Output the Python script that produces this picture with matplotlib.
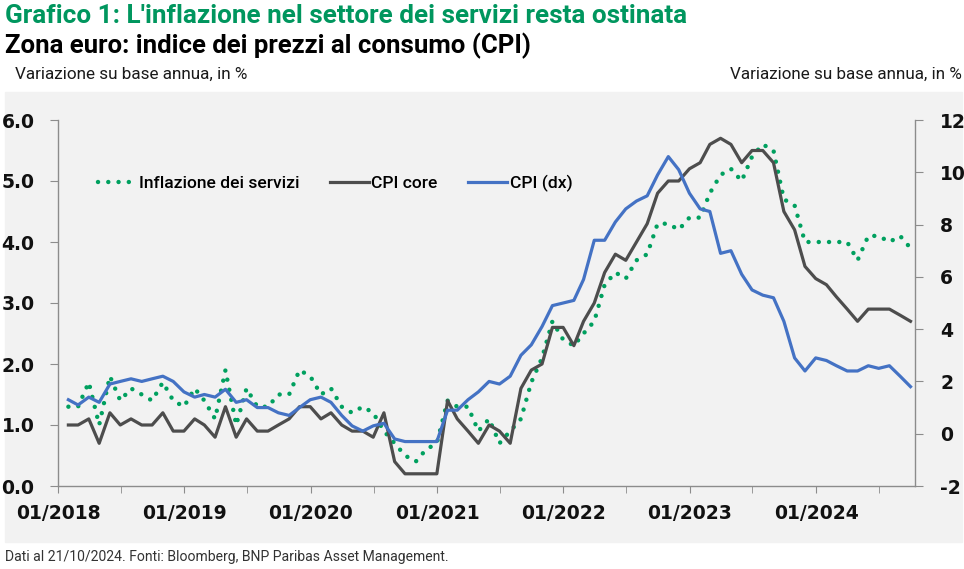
import matplotlib
matplotlib.use('Agg')
import matplotlib.pyplot as plt
import matplotlib.dates as mdates
from matplotlib import font_manager
from matplotlib.patches import Rectangle
from matplotlib.ticker import FormatStrFormatter
import numpy as np
import pandas as pd

# monthly data, Jan 2018 - Sep 2024 (points sit at month end)
months = pd.date_range('2018-01-01', periods=81, freq='MS') + pd.offsets.MonthEnd(0)

servizi = [1.3, 1.3, 1.7, 1.0, 1.8, 1.4, 1.6, 1.5, 1.4, 1.7, 1.4, 1.3,
           1.6, 1.4, 1.1, 1.9, 1.0, 1.6, 1.3, 1.3, 1.5, 1.5, 1.9, 1.8,
           1.5, 1.6, 1.3, 1.2, 1.3, 1.2, 0.9, 0.7, 0.5, 0.4, 0.6, 0.7,
           1.4, 1.3, 1.3, 0.9, 1.1, 0.7, 0.9, 1.1, 1.7, 2.1, 2.7, 2.4,
           2.3, 2.5, 2.7, 3.3, 3.5, 3.4, 3.7, 3.8, 4.3, 4.3, 4.2, 4.4,
           4.4, 4.8, 5.1, 5.2, 5.0, 5.4, 5.6, 5.5, 4.7, 4.6, 4.0, 4.0,
           4.0, 4.0, 4.0, 3.7, 4.1, 4.1, 4.0, 4.1, 3.9]

core = [1.0, 1.0, 1.1, 0.7, 1.2, 1.0, 1.1, 1.0, 1.0, 1.2, 0.9, 0.9,
        1.1, 1.0, 0.8, 1.3, 0.8, 1.1, 0.9, 0.9, 1.0, 1.1, 1.3, 1.3,
        1.1, 1.2, 1.0, 0.9, 0.9, 0.8, 1.2, 0.4, 0.2, 0.2, 0.2, 0.2,
        1.4, 1.1, 0.9, 0.7, 1.0, 0.9, 0.7, 1.6, 1.9, 2.0, 2.6, 2.6,
        2.3, 2.7, 3.0, 3.5, 3.8, 3.7, 4.0, 4.3, 4.8, 5.0, 5.0, 5.2,
        5.3, 5.6, 5.7, 5.6, 5.3, 5.5, 5.5, 5.3, 4.5, 4.2, 3.6, 3.4,
        3.3, 3.1, 2.9, 2.7, 2.9, 2.9, 2.9, 2.8, 2.7]

cpi = [1.3, 1.1, 1.4, 1.2, 1.9, 2.0, 2.1, 2.0, 2.1, 2.2, 2.0, 1.6,
       1.4, 1.5, 1.4, 1.7, 1.2, 1.3, 1.0, 1.0, 0.8, 0.7, 1.0, 1.3,
       1.4, 1.2, 0.7, 0.3, 0.1, 0.3, 0.4, -0.2, -0.3, -0.3, -0.3, -0.3,
       0.9, 0.9, 1.3, 1.6, 2.0, 1.9, 2.2, 3.0, 3.4, 4.1, 4.9, 5.0,
       5.1, 5.9, 7.4, 7.4, 8.1, 8.6, 8.9, 9.1, 9.9, 10.6, 10.1, 9.2,
       8.6, 8.5, 6.9, 7.0, 6.1, 5.5, 5.3, 5.2, 4.3, 2.9, 2.4, 2.9,
       2.8, 2.6, 2.4, 2.4, 2.6, 2.5, 2.6, 2.2, 1.8]

labels = ['Inflazione dei servizi', 'CPI core', 'CPI (dx)']
title = "Grafico 1: L'inflazione nel settore dei servizi resta ostinata"
subtitle = 'Zona euro: indice dei prezzi al consumo (CPI)'
unit = 'Variazione su base annua, in %'
source = 'Dati al 21/10/2024. Fonti: Bloomberg, BNP Paribas Asset Management.'

GREEN = '#00965E'
DOTS = '#00A05F'
GREY = '#4D4D4D'
BLUE = '#4472C4'
AXIS = '#8C8C8C'

names = {f.name for f in font_manager.fontManager.ttflist}
narrow = 'Liberation Sans Narrow' if 'Liberation Sans Narrow' in names else 'Roboto'

plt.rcParams['axes.unicode_minus'] = False
plt.rcParams['font.family'] = 'DejaVu Sans'

W, H = 964, 569
fig = plt.figure(figsize=(W / 100, H / 100), dpi=100)

# grey panel behind the plot
fig.patches.append(Rectangle((5 / W, 1 - 542 / H), 957 / W, 450 / H,
                             transform=fig.transFigure, color='#F2F2F2', zorder=-10))

ax = fig.add_axes([58 / W, 1 - 486 / H, 857 / W, 366 / H])
ax.set_facecolor('none')
ax2 = ax.twinx()
ax2.set_facecolor('none')

l1, = ax.plot(months, servizi, color=DOTS, lw=3.2, ls=(0, (0.01, 2.3)),
              dash_capstyle='round', label=labels[0])
l2, = ax.plot(months, core, color=GREY, lw=2.3, label=labels[1])
l3, = ax2.plot(months, cpi, color=BLUE, lw=2.3, label=labels[2])

ax.set_xlim(pd.Timestamp('2018-01-01'), pd.Timestamp('2024-10-13'))
ax.set_ylim(0, 6)
ax.set_yticks(np.arange(0, 6.01, 1))
ax.yaxis.set_major_formatter(FormatStrFormatter('%.1f'))
ax2.set_ylim(-2, 12)
ax2.set_yticks(range(-2, 13, 2))

ax.xaxis.set_major_locator(mdates.YearLocator())
ax.xaxis.set_major_formatter(mdates.DateFormatter('%m/%Y'))
ax.xaxis.set_minor_locator(mdates.MonthLocator(bymonth=7))

for a in (ax, ax2):
    a.spines['top'].set_visible(False)
    for s in ('left', 'right', 'bottom'):
        a.spines[s].set_color(AXIS)
        a.spines[s].set_linewidth(1)
ax.spines['right'].set_visible(False)
ax2.spines['left'].set_visible(False)
ax2.spines['bottom'].set_visible(False)

ax.tick_params(axis='x', which='both', length=5, color=AXIS, pad=8,
               labelsize=13.5, labelcolor='#111111')
ax.tick_params(axis='y', length=6, color=AXIS, pad=11,
               labelsize=13.5, labelcolor='#111111')
ax2.tick_params(axis='y', length=6, color=AXIS, pad=12,
                labelsize=13.5, labelcolor='#111111')
for lab in ax.get_xticklabels() + ax.get_yticklabels() + ax2.get_yticklabels():
    lab.set_fontweight('bold')

leg = ax2.legend([l1, l2, l3], labels, loc='center left',
                 bbox_to_anchor=(98 / W, 1 - 183 / H), bbox_transform=fig.transFigure,
                 ncol=3, frameon=False, borderpad=0, borderaxespad=0,
                 handlelength=2.2, handletextpad=0.15, columnspacing=1.75,
                 prop={'family': narrow, 'size': 12.6, 'weight': 'medium'})

t1 = fig.text(5 / W, 1 - 23 / H, title, color=GREEN, fontweight='bold',
              family=narrow, fontsize=17, va='baseline')
t2 = fig.text(5 / W, 1 - 53 / H, subtitle, color='black', fontweight='bold',
              family=narrow, fontsize=17, va='baseline')
t3 = fig.text(15 / W, 1 - 79 / H, unit, color='#1A1A1A',
              family=narrow, fontsize=11, va='baseline')
t4 = fig.text(962 / W, 1 - 79 / H, unit, color='#1A1A1A', ha='right',
              family=narrow, fontsize=11, va='baseline')
t5 = fig.text(5 / W, 1 - 561 / H, source, color='#333333',
              family=narrow, fontsize=10, va='baseline')


# scale each text so it spans the same width as in the original
def fit(t, width):
    r = fig.canvas.get_renderer()
    w = t.get_window_extent(r).width
    t.set_fontsize(t.get_fontsize() * width / w)


fit(t1, 683)
fit(t2, 525)
fit(t3, 233)
fit(t4, 231)
fit(t5, 445)

fig.savefig('out.png', dpi=100)
